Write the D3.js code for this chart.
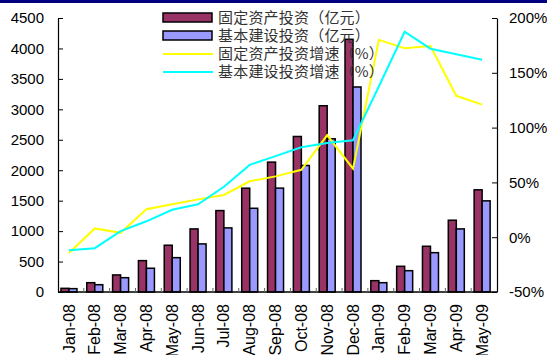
<!DOCTYPE html>
<html>
<head>
<meta charset="utf-8">
<script src="https://cdn.jsdelivr.net/npm/d3@7"></script>
<style>
  html, body { margin: 0; padding: 0; background: #fff; }
  svg { display: block; }
  .tick text { font-family: "Liberation Sans", Arial, sans-serif; }
</style>
</head>
<body>
<div id="chart"></div>
<script>
// categories (months)
const months = ['Jan-08', 'Feb-08', 'Mar-08', 'Apr-08', 'May-08', 'Jun-08', 'Jul-08', 'Aug-08',
  'Sep-08', 'Oct-08', 'Nov-08', 'Dec-08', 'Jan-09', 'Feb-09', 'Mar-09', 'Apr-09', 'May-09'];

// 固定资产投资（亿元）
const fixedInvest = [60, 153, 280, 515, 768, 1036, 1337, 1705, 2133, 2554, 3059, 4150,
  186, 422, 751, 1179, 1678];
// 基本建设投资（亿元）
const infraInvest = [55, 120, 235, 390, 564, 790, 1053, 1375, 1706, 2078, 2516, 3367,
  153, 350, 646, 1036, 1497];
// 固定资产投资增速（%）
const fixedGrowth = [-14.5, 8, 4, 25.5, 30, 34.5, 38.5, 51, 55.5, 61.5, 93, 62.5,
  180, 172.5, 174.5, 129, 121];
// 基本建设投资增速（%）
const infraGrowth = [-12, -10, 5.5, 14.5, 25, 30, 46, 66, 74, 82, 86, 88.5,
  137.5, 187.5, 172, 167, 162];

const leftTicks = [0, 500, 1000, 1500, 2000, 2500, 3000, 3500, 4000, 4500];
const rightTicks = [-50, 0, 50, 100, 150, 200];

const seriesNames = ['固定资产投资（亿元）', '基本建设投资（亿元）', '固定资产投资增速（%）', '基本建设投资增速（%）'];
const colors = ['#993366', '#9999ff', '#ffff00', '#00ffff'];

const width = 547, height = 355;
const plot = { left: 58, right: 497, top: 18, bottom: 292 };

const svg = d3.select('#chart').append('svg')
  .attr('width', width)
  .attr('height', height);

// navy strip at the top edge
svg.append('rect')
  .attr('x', 0).attr('y', 0)
  .attr('width', width).attr('height', 3)
  .attr('fill', '#000080');

// scales
const xCat = d3.scaleBand().domain(months).range([plot.left, plot.right]).padding(0);
const x0 = d3.scaleBand().domain(months).range([plot.left, plot.right])
  .paddingInner(0.38).paddingOuter(0.19).align(0.3);
const x1 = d3.scaleBand().domain([0, 1]).range([0, x0.bandwidth()]);
const yLeft = d3.scaleLinear().domain([0, 4500]).range([plot.bottom, plot.top]);
const yRight = d3.scaleLinear().domain([-50, 200]).range([plot.bottom, plot.top]);

// bars
const barData = months.map((m, i) => ({ m, vals: [fixedInvest[i], infraInvest[i]] }));
const groups = svg.append('g').selectAll('g')
  .data(barData)
  .join('g')
    .attr('transform', d => `translate(${x0(d.m)},0)`);

groups.selectAll('rect')
  .data(d => d.vals.map((v, k) => ({ k, v })))
  .join('rect')
    .attr('x', d => x1(d.k))
    .attr('y', d => yLeft(d.v))
    .attr('width', x1.bandwidth())
    .attr('height', d => yLeft(0) - yLeft(d.v))
    .attr('fill', d => colors[d.k])
    .attr('stroke', '#000')
    .attr('stroke-width', 1.5);

// growth lines
const cx = m => x0(m) + x0.bandwidth() / 2;
[fixedGrowth, infraGrowth].forEach((arr, k) => {
  const line = d3.line()
    .x((d, i) => cx(months[i]))
    .y(d => yRight(d));
  svg.append('path')
    .datum(arr)
    .attr('d', line)
    .attr('fill', 'none')
    .attr('stroke', colors[k + 2])
    .attr('stroke-width', 2);
});

// left axis
const gL = svg.append('g')
  .attr('transform', `translate(${plot.left},0)`)
  .call(d3.axisLeft(yLeft).tickValues(leftTicks).tickFormat(d3.format('d'))
    .tickSizeInner(-5).tickSizeOuter(0).tickPadding(14));
gL.select('.domain').attr('stroke', '#000').attr('stroke-width', 1.2);
gL.selectAll('.tick line').attr('stroke', '#000');
gL.selectAll('.tick text').attr('font-size', 15).attr('fill', '#000');

// right axis
const gR = svg.append('g')
  .attr('transform', `translate(${plot.right},0)`)
  .call(d3.axisRight(yRight).tickValues(rightTicks).tickSizeInner(-5).tickSizeOuter(0)
    .tickPadding(12).tickFormat(d => d + '%'));
gR.select('.domain').attr('stroke', '#000').attr('stroke-width', 1.2);
gR.selectAll('.tick line').attr('stroke', '#000');
gR.selectAll('.tick text').attr('font-size', 15).attr('fill', '#000');

// bottom axis: baseline, small gray ticks between categories, rotated labels
const gB = svg.append('g').attr('transform', `translate(0,${plot.bottom})`);
gB.append('line')
  .attr('x1', plot.left).attr('x2', plot.right)
  .attr('y1', 0).attr('y2', 0)
  .attr('stroke', '#000').attr('stroke-width', 1.5);
gB.selectAll('.sep')
  .data(months.slice(1))
  .join('line')
    .attr('class', 'sep')
    .attr('x1', d => xCat(d)).attr('x2', d => xCat(d))
    .attr('y1', 0).attr('y2', -4)
    .attr('stroke', '#666');
gB.selectAll('.lbl')
  .data(months)
  .join('text')
    .attr('class', 'lbl')
    .attr('transform', d => `translate(${cx(d)},12) rotate(-90)`)
    .attr('text-anchor', 'end')
    .attr('dy', '0.35em')
    .attr('font-family', '"Liberation Sans", Arial, sans-serif')
    .attr('font-size', 16)
    .text(d => d);

// legend (drawn over the bars, as in the original)
const legendY = [17.5, 35.5, 54, 72];
const lg = svg.append('g');
seriesNames.forEach((name, i) => {
  if (i < 2) {
    lg.append('rect')
      .attr('x', 163).attr('y', legendY[i] - 4.5)
      .attr('width', 49).attr('height', 9)
      .attr('fill', colors[i])
      .attr('stroke', '#000').attr('stroke-width', 1.5);
  } else {
    lg.append('line')
      .attr('x1', 163).attr('x2', 213)
      .attr('y1', legendY[i]).attr('y2', legendY[i])
      .attr('stroke', colors[i]).attr('stroke-width', 2);
  }
  lg.append('text')
    .attr('x', 218).attr('y', legendY[i])
    .attr('dy', '0.35em')
    .attr('font-family', '"Noto Sans CJK SC", sans-serif')
    .attr('font-size', 15)
    .attr('letter-spacing', 0.2)
    .attr('fill', '#333')
    .text(name);
});
</script>
</body>
</html>
